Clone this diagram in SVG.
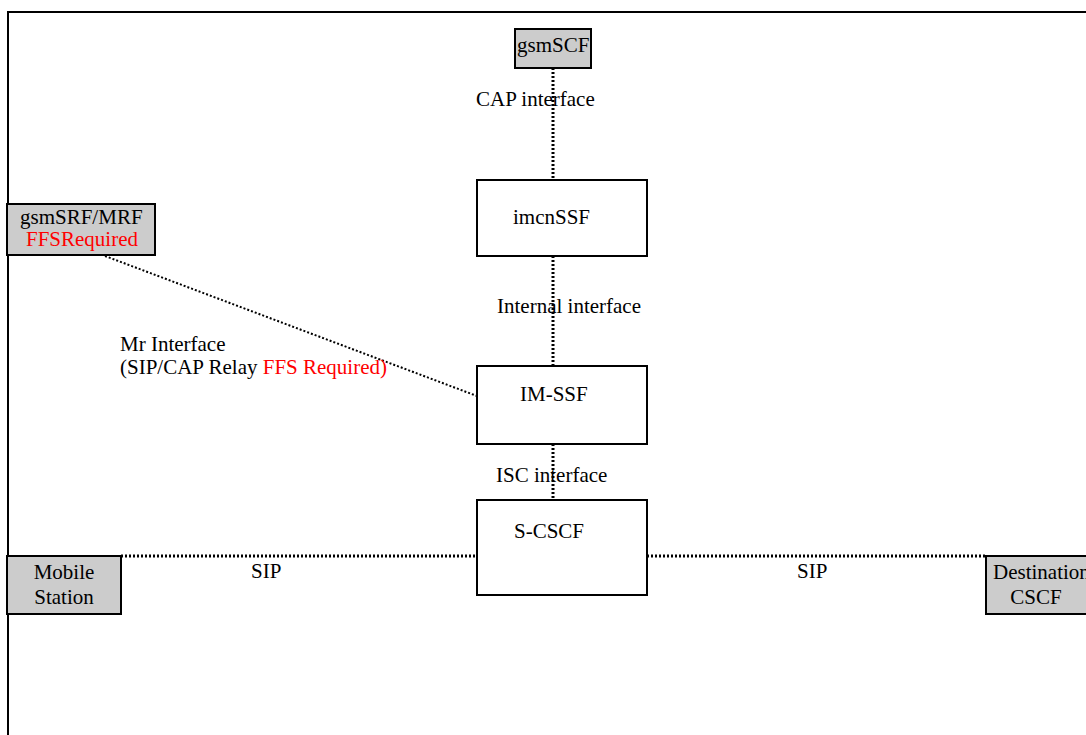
<svg xmlns="http://www.w3.org/2000/svg" width="1086" height="735" viewBox="0 0 1086 735">
<style>
text{font-family:"Liberation Serif","Times New Roman",serif;font-size:21px;fill:#000}
.red{fill:#ff0000}
.g{fill:#cccccc;stroke:#000;stroke-width:2}
.w{fill:#fff;stroke:#000;stroke-width:2}
.c{stroke:#000;stroke-width:3;stroke-dasharray:2 2;fill:none}
.d{stroke:#000;stroke-width:2;stroke-dasharray:2 2;fill:none}
</style>
<rect width="1086" height="735" fill="#fff"/>
<g id="frame"><path d="M8 735V12H1086" fill="none" stroke="#000" stroke-width="2"/></g>
<g id="connectors">
<line class="c" x1="553" y1="68" x2="553" y2="180"/>
<line class="c" x1="553" y1="256" x2="553" y2="366"/>
<line class="c" x1="553" y1="444" x2="553" y2="500"/>
<line class="d" x1="105" y1="256" x2="477" y2="396"/>
<line class="c" x1="121" y1="556" x2="477" y2="556"/>
<line class="c" x1="647" y1="556" x2="986" y2="556"/>
</g>
<g id="gsmSCF"><rect class="g" x="515" y="29" width="76" height="39"/><text x="517" y="52">gsmSCF</text></g>
<g id="gsmSRF"><rect class="g" x="7" y="204" width="148" height="51"/><text x="20" y="224">gsmSRF/MRF</text><text class="red" x="26" y="246">FFSRequired</text></g>
<g id="imcnSSF"><rect class="w" x="477" y="180" width="170" height="76"/><text x="513" y="224">imcnSSF</text></g>
<g id="IM-SSF"><rect class="w" x="477" y="366" width="170" height="78"/><text x="520" y="401">IM-SSF</text></g>
<g id="S-CSCF"><rect class="w" x="477" y="500" width="170" height="95"/><text x="514" y="538">S-CSCF</text></g>
<g id="MobileStation"><rect class="g" x="7" y="556" width="114" height="58"/><text x="64" y="579" text-anchor="middle">Mobile</text><text x="64" y="604" text-anchor="middle">Station</text></g>
<g id="DestinationCSCF"><rect class="g" x="986" y="556" width="102" height="58"/><text x="993" y="579">Destination</text><text x="1036" y="604" text-anchor="middle">CSCF</text></g>
<g id="labels">
<text x="476" y="106">CAP interface</text>
<text x="497" y="313">Internal interface</text>
<text x="120" y="351">Mr Interface</text>
<text x="120" y="374">(SIP/CAP Relay <tspan class="red">FFS Required)</tspan></text>
<text x="496" y="482">ISC interface</text>
<text x="251" y="578">SIP</text>
<text x="797" y="578">SIP</text>
</g>
</svg>
